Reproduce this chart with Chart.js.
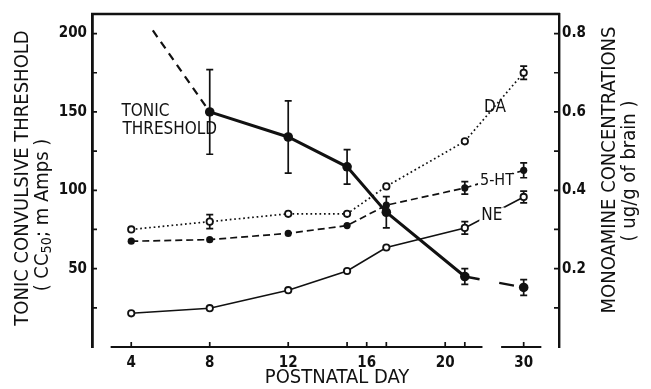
<!DOCTYPE html>
<html>
<head>
<meta charset="utf-8">
<script src="https://cdn.jsdelivr.net/npm/chart.js@4.4.1/dist/chart.umd.min.js"></script>
<style>
  html, body { margin: 0; padding: 0; background: #fff; }
  #wrap { width: 651px; height: 389px; }
</style>
</head>
<body>
<div id="wrap"><canvas id="c"></canvas></div>
<script>
const FONT = '"DejaVu Sans Condensed", "DejaVu Sans", sans-serif';
const INK = "#111";

// postnatal days sampled
const days = [4, 8, 12, 15, 17, 21, 30];

// tonic convulsive threshold (CC50, mA), left axis
const tonicThreshold = [null, 150, 134, 115, 86, 45, 38];
const tonicErr = [null, 27, 23, 11, 10, 5, 5];
// dashed extrapolation before day 8
const tonicExtrapDays = [5.1, 8];
const tonicExtrapValues = [202, 150];

// monoamines (ug/g of brain), right axis
const daValues = [0.30, 0.32, 0.34, 0.34, 0.41, 0.525, 0.70];
const daErr = [0, 0.018, 0, 0, 0, 0, 0.017];
const htValues = [0.27, 0.274, 0.29, 0.31, 0.362, 0.406, 0.451];
const htErr = [0, 0, 0, 0, 0, 0.016, 0.019];
const neValues = [0.086, 0.099, 0.145, 0.194, 0.254, 0.304, 0.383];
const neErr = [0, 0, 0, 0, 0, 0.016, 0.015];

// ticks
const xTickDays = [4, 8, 12, 15, 16, 17, 20, 21, 30];
const xLabelDays = [4, 8, 12, 16, 20, 30];
const leftTicks = [25, 50, 75, 100, 125, 150, 175, 200];
const leftLabels = [50, 100, 150, 200];
const rightTicks = [0.1, 0.2, 0.3, 0.4, 0.5, 0.6, 0.7, 0.8];
const rightLabels = [0.2, 0.4, 0.6, 0.8];

// broken x axis: days 22..28 are cut out
const CUT = 6;
const pos = d => (d > 25 ? d - CUT : d);
const dayOf = p => (p > 22.4 ? p + CUT : p);
const axisSegments = [[2.95, 21.9], [22.85, 24.9]];

const pts = (xs, ys) => xs.map((d, i) => ({ x: pos(d), y: ys[i] }));

const decor = {
  id: "decor",
  beforeDatasetsDraw(chart) {
    const { ctx } = chart;
    ctx.save();
    ctx.strokeStyle = INK;
    ctx.lineWidth = 1.7;
    chart.data.datasets.forEach(ds => {
      if (!ds.errors) return;
      const xs = chart.scales.x, ys = chart.scales[ds.yAxisID];
      ds.data.forEach((p, j) => {
        const e = ds.errors[j];
        if (!e || p.y == null) return;
        const x = xs.getPixelForValue(p.x);
        const y1 = ys.getPixelForValue(p.y + e);
        const y2 = ys.getPixelForValue(p.y - e);
        ctx.beginPath();
        ctx.moveTo(x, y1); ctx.lineTo(x, y2);
        ctx.moveTo(x - 3.5, y1); ctx.lineTo(x + 3.5, y1);
        ctx.moveTo(x - 3.5, y2); ctx.lineTo(x + 3.5, y2);
        ctx.stroke();
      });
    });
    ctx.restore();
  },
  afterDraw(chart) {
    const { ctx, chartArea: a } = chart;
    const xs = chart.scales.x, yl = chart.scales.y, yr = chart.scales.y2;
    ctx.save();
    ctx.strokeStyle = INK;
    ctx.fillStyle = INK;

    // top frame
    ctx.lineWidth = 2.4;
    ctx.beginPath();
    ctx.moveTo(a.left - 1, a.top);
    ctx.lineTo(a.right + 1, a.top);
    ctx.stroke();

    // broken x axis
    ctx.lineWidth = 2.2;
    axisSegments.forEach(([p0, p1]) => {
      ctx.beginPath();
      ctx.moveTo(xs.getPixelForValue(p0), a.bottom);
      ctx.lineTo(xs.getPixelForValue(p1), a.bottom);
      ctx.stroke();
    });

    // inward tick marks
    ctx.lineWidth = 1.7;
    ctx.beginPath();
    xTickDays.forEach(d => {
      const x = xs.getPixelForValue(pos(d));
      ctx.moveTo(x, a.bottom); ctx.lineTo(x, a.bottom - 5);
    });
    leftTicks.forEach(v => {
      const y = yl.getPixelForValue(v);
      ctx.moveTo(a.left, y); ctx.lineTo(a.left + 5, y);
    });
    rightTicks.forEach(v => {
      const y = yr.getPixelForValue(v);
      ctx.moveTo(a.right, y); ctx.lineTo(a.right - 5, y);
    });
    ctx.stroke();

    // axis titles
    const vtext = (parts, cx, cy, size) => {
      ctx.save();
      ctx.translate(cx, cy);
      ctx.rotate(-Math.PI / 2);
      ctx.textBaseline = "middle";
      ctx.textAlign = "left";
      let w = 0;
      parts.forEach(p => {
        ctx.font = `${p.sub ? size * 0.72 : size}px ${FONT}`;
        w += ctx.measureText(p.t).width;
      });
      let x = -w / 2;
      parts.forEach(p => {
        ctx.font = `${p.sub ? size * 0.72 : size}px ${FONT}`;
        ctx.fillText(p.t, x, p.sub ? 4 : 0);
        x += ctx.measureText(p.t).width;
      });
      ctx.restore();
    };
    vtext([{ t: "TONIC CONVULSIVE THRESHOLD" }], 23, 178, 20);
    vtext([{ t: "( CC" }, { t: "50", sub: true }, { t: "; m Amps )" }], 43, 215, 20);
    vtext([{ t: "MONOAMINE CONCENTRATIONS" }], 610, 170, 20);
    vtext([{ t: "( ug/g of brain )" }], 630, 171, 20);

    ctx.font = `20px ${FONT}`;
    ctx.textAlign = "center";
    ctx.textBaseline = "middle";
    ctx.fillText("POSTNATAL DAY", 337, 378);

    // series labels
    const label = (t, p, v, scale, align, size, bg) => {
      const x = xs.getPixelForValue(p), y = scale.getPixelForValue(v);
      ctx.font = `${size}px ${FONT}`;
      ctx.textAlign = align;
      ctx.textBaseline = "middle";
      if (bg) {
        const w = ctx.measureText(t).width;
        const x0 = align === "center" ? x - w / 2 : x;
        ctx.fillStyle = "#fff";
        ctx.fillRect(x0 - 2, y - 8, w + 4, 16);
        ctx.fillStyle = INK;
      }
      ctx.fillText(t, x, y);
    };
    label("TONIC", 3.5, 150, yl, "left", 17);
    label("THRESHOLD", 3.55, 138.6, yl, "left", 17);
    label("DA", 22.54, 0.611, yr, "center", 17);
    label("5-HT", 22.64, 0.423, yr, "center", 16, true);
    label("NE", 22.38, 0.336, yr, "center", 17, true);
    ctx.restore();
  }
};

const tickFont = { family: FONT, size: 15, weight: "bold" };

new Chart(document.getElementById("c"), {
  type: "line",
  data: {
    datasets: [
      {
        label: "Tonic threshold",
        yAxisID: "y",
        data: pts(days, tonicThreshold),
        errors: tonicErr,
        borderColor: INK,
        backgroundColor: INK,
        borderWidth: 3,
        pointRadius: 4.8,
        pointBorderWidth: 0,
        spanGaps: false,
        segment: {
          borderDash: c => (c.p0.parsed.x >= pos(21) ? [15, 20] : undefined),
          borderWidth: c => (c.p0.parsed.x >= pos(21) ? 2.4 : undefined)
        }
      },
      {
        label: "Tonic extrapolation",
        yAxisID: "y",
        data: pts(tonicExtrapDays, tonicExtrapValues),
        borderColor: INK,
        borderWidth: 2.2,
        borderDash: [8, 6],
        pointRadius: 0
      },
      {
        label: "DA",
        yAxisID: "y2",
        data: pts(days, daValues),
        errors: daErr,
        borderColor: INK,
        backgroundColor: "#fff",
        borderWidth: 1.7,
        borderDash: [1.7, 2.8],
        pointRadius: 3.2,
        pointBorderWidth: 1.8
      },
      {
        label: "5-HT",
        yAxisID: "y2",
        data: pts(days, htValues),
        errors: htErr,
        borderColor: INK,
        backgroundColor: INK,
        borderWidth: 1.7,
        borderDash: [7, 4],
        pointRadius: 3.6,
        pointBorderWidth: 0
      },
      {
        label: "NE",
        yAxisID: "y2",
        data: pts(days, neValues),
        errors: neErr,
        borderColor: INK,
        backgroundColor: "#fff",
        borderWidth: 1.6,
        pointRadius: 3.2,
        pointBorderWidth: 1.8
      }
    ]
  },
  options: {
    responsive: true,
    maintainAspectRatio: false,
    animation: false,
    layout: { padding: { top: 14, left: 0, right: 0, bottom: 0 } },
    plugins: { legend: { display: false }, tooltip: { enabled: false } },
    elements: { line: { tension: 0 } },
    scales: {
      x: {
        type: "linear",
        min: 2,
        max: 25.8,
        grid: { display: false, drawTicks: false },
        border: { display: false },
        afterBuildTicks: axis => { axis.ticks = xTickDays.map(d => ({ value: pos(d) })); },
        afterFit: axis => { axis.height = 42; },
        ticks: {
          autoSkip: false,
          maxRotation: 0,
          padding: 7,
          color: INK,
          font: tickFont,
          callback: v => {
            const d = Math.round(dayOf(v));
            return xLabelDays.includes(d) ? String(d) : "";
          }
        }
      },
      y: {
        position: "left",
        min: 0,
        max: 212.5,
        grid: { display: false, drawTicks: false },
        border: { display: true, color: INK, width: 2.8 },
        afterBuildTicks: axis => { axis.ticks = leftTicks.map(v => ({ value: v })); },
        afterFit: axis => { axis.width = 92; },
        ticks: {
          padding: 5,
          color: INK,
          font: tickFont,
          callback: v => (leftLabels.includes(v) ? String(v) : "")
        }
      },
      y2: {
        position: "right",
        min: 0,
        max: 0.85,
        grid: { display: false, drawTicks: false },
        border: { display: true, color: INK, width: 2.4 },
        afterBuildTicks: axis => { axis.ticks = rightTicks.map(v => ({ value: v })); },
        afterFit: axis => { axis.width = 92; },
        ticks: {
          padding: 3,
          color: INK,
          font: tickFont,
          callback: v => (rightLabels.some(r => Math.abs(r - v) < 1e-6) ? v.toFixed(1) : "")
        }
      }
    }
  },
  plugins: [decor]
});
</script>
</body>
</html>
